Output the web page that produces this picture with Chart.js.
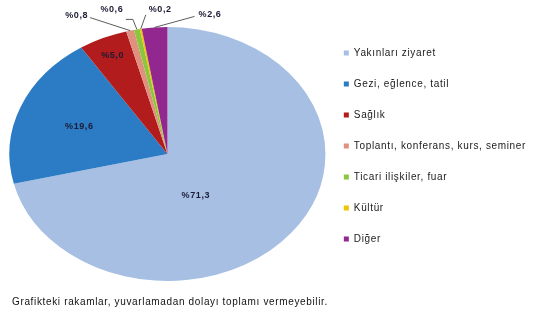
<!DOCTYPE html>
<html>
<head>
<meta charset="utf-8">
<script src="https://cdn.jsdelivr.net/npm/chart.js@4/dist/chart.umd.min.js"></script>
<style>
html,body{margin:0;padding:0;background:#fff;}
#wrap{width:538px;height:315px;}
</style>
</head>
<body>
<div id="wrap"><canvas id="c" width="538" height="315"></canvas></div>
<script>
const categories = ['Yakınları ziyaret', 'Gezi, eğlence, tatil', 'Sağlık', 'Toplantı, konferans, kurs, seminer', 'Ticari ilişkiler, fuar', 'Kültür', 'Diğer'];
const values = [71.3, 19.6, 5.0, 0.8, 0.6, 0.2, 2.6];
const valueLabels = ['%71,3', '%19,6', '%5,0', '%0,8', '%0,6', '%0,2', '%2,6'];
const colors = ['#A6BFE3', '#2B7CC4', '#B21C1C', '#E0907F', '#8CC63E', '#F2C300', '#92278F'];
const footnote = 'Grafikteki rakamlar, yuvarlamadan dolayı toplamı vermeyebilir.';

const SX = 158 / 127; // horizontal stretch to make the pie an ellipse

// label placement styles (inner: fraction of radius + offset; outer: offsets from arc edge)
const labelStyle = [
  {type: 'in', f: 0.35, dx: -15, dy: 14},
  {type: 'in', f: 0.6, dx: 0, dy: 1},
  {type: 'in', f: 0.85, dx: 0, dy: 0},
  {type: 'out', tx: -42, ty: -15, align: 'right', line: [[-40, -13]]},
  {type: 'out', tx: -25, ty: -20, align: 'center', line: [[-4, -10], [-11, -10]]},
  {type: 'out', tx: 8, ty: -19, align: 'left', line: [[5, -14]]},
  {type: 'out', tx: 44, ty: -13, align: 'left', line: [[40, -11]]}
];

const spacingPlugin = {
  id: 'spacing',
  beforeUpdate(chart) { try { chart.ctx.letterSpacing = '0.65px'; } catch (e) {} },
  beforeDraw(chart) { try { chart.ctx.letterSpacing = '0.65px'; } catch (e) {} }
};

const ellipsePlugin = {
  id: 'ellipse',
  beforeDatasetsDraw(chart) {
    const arc = chart.getDatasetMeta(0).data[0];
    const ctx = chart.ctx;
    ctx.save();
    ctx.translate(arc.x, arc.y);
    ctx.scale(SX, 1);
    ctx.translate(-arc.x, -arc.y);
  },
  afterDatasetsDraw(chart) {
    const ctx = chart.ctx;
    ctx.restore();
    const meta = chart.getDatasetMeta(0);
    ctx.save();
    ctx.font = 'bold 9px "Liberation Sans", Arial, sans-serif';
    try { ctx.letterSpacing = '0.6px'; } catch (e) {}
    ctx.fillStyle = '#1c1c36';
    ctx.textBaseline = 'middle';
    meta.data.forEach((a, i) => {
      const st = labelStyle[i];
      const mid = (a.startAngle + a.endAngle) / 2;
      const cx = a.x, cy = a.y, R = a.outerRadius;
      if (st.type === 'in') {
        const x = cx + SX * R * st.f * Math.cos(mid) + st.dx;
        const y = cy + R * st.f * Math.sin(mid) + st.dy;
        ctx.textAlign = 'center';
        ctx.fillText(valueLabels[i], x, y);
      } else {
        const ax = cx + SX * R * Math.cos(mid);
        const ay = cy + R * Math.sin(mid);
        ctx.strokeStyle = '#333333';
        ctx.lineWidth = 0.8;
        ctx.beginPath();
        ctx.moveTo(ax, ay);
        st.line.forEach(p => ctx.lineTo(ax + p[0], ay + p[1]));
        ctx.stroke();
        ctx.textAlign = st.align;
        ctx.fillText(valueLabels[i], ax + st.tx, ay + st.ty);
      }
    });
    ctx.restore();
  }
};

new Chart(document.getElementById('c'), {
  type: 'pie',
  data: {
    labels: categories,
    datasets: [{
      data: values,
      backgroundColor: colors,
      borderWidth: 0
    }]
  },
  options: {
    responsive: false,
    devicePixelRatio: 1,
    animation: false,
    layout: {padding: {top: 27, left: 12, right: 2, bottom: 0}},
    plugins: {
      tooltip: {enabled: false},
      legend: {
        position: 'right',
        align: 'start',
        labels: {
          boxWidth: 5,
          boxHeight: 5,
          padding: 21,
          color: '#1a1a1a',
          font: {family: '"Liberation Sans", Arial, sans-serif', size: 10}
        }
      },
      subtitle: {
        display: true,
        text: footnote,
        position: 'bottom',
        align: 'start',
        color: '#111',
        font: {family: '"Liberation Sans", Arial, sans-serif', size: 10, weight: 'normal'},
        padding: {top: 15, bottom: 7}
      }
    }
  },
  plugins: [spacingPlugin, ellipsePlugin]
});
</script>
</body>
</html>
